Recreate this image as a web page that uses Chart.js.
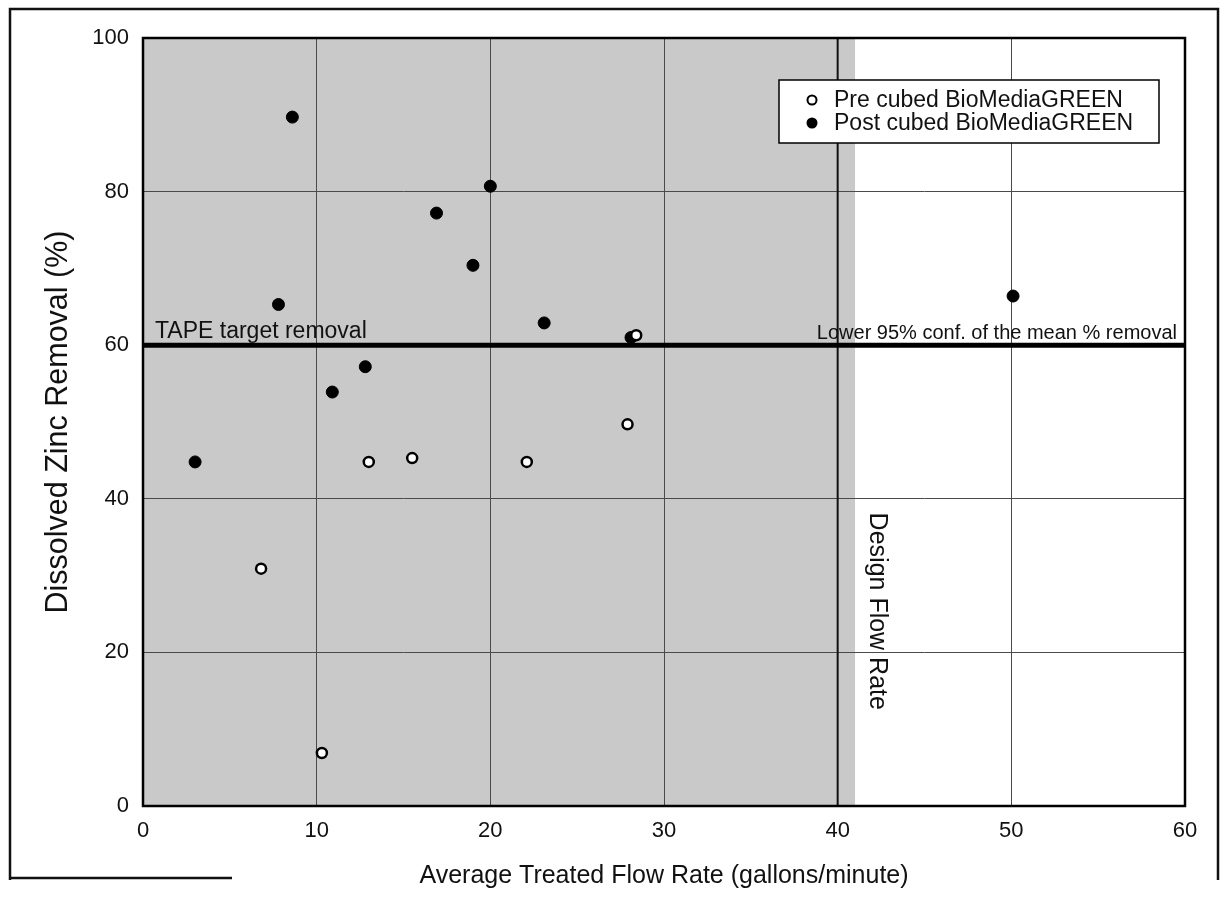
<!DOCTYPE html>
<html>
<head>
<meta charset="utf-8">
<script src="https://cdn.jsdelivr.net/npm/chart.js@4.4.1/dist/chart.umd.min.js"></script>
<style>
  html, body { margin: 0; padding: 0; background: #fff; }
  #wrap { width: 1226px; height: 903px; }
  canvas { background: #fff; }
</style>
</head>
<body>
<div id="wrap"><canvas id="zincChart" width="1226" height="903"></canvas></div>
<script>
// values
const preFlow = [28.4, 27.9, 13.0, 15.5, 22.1, 6.8, 10.3];
const preRemoval = [61.3, 49.7, 44.8, 45.3, 44.8, 30.9, 6.9];
const postFlow = [8.6, 7.8, 16.9, 20.0, 19.0, 23.1, 28.1, 12.8, 10.9, 3.0, 50.1];
const postRemoval = [89.7, 65.3, 77.2, 80.7, 70.4, 62.9, 61.0, 57.2, 53.9, 44.8, 66.4];
const seriesNames = ["Pre cubed BioMediaGREEN", "Post cubed BioMediaGREEN"];
const targetRemoval = 60;
const designFlowRate = 40;
const shadedFlowMax = 41;
const xRange = [0, 60];
const yRange = [0, 100];
const xStep = 10;
const yStep = 20;

const FONT = "'Liberation Sans', Arial, sans-serif";

function toPoints(xs, ys) {
  return xs.map((x, i) => ({ x: x, y: ys[i] }));
}

const decorations = {
  id: "decorations",
  beforeDraw(chart) {
    const { ctx, chartArea, scales } = chart;
    const left = scales.x.getPixelForValue(xRange[0]);
    const right = scales.x.getPixelForValue(shadedFlowMax);
    ctx.save();
    ctx.fillStyle = "#c9c9c9";
    ctx.fillRect(left, chartArea.top, right - left, chartArea.bottom - chartArea.top);
    ctx.restore();
  },
  afterDatasetsDraw(chart) {
    const { ctx, scales } = chart;
    const yLine = scales.y.getPixelForValue(targetRemoval);
    ctx.save();
    ctx.fillStyle = "#111";
    ctx.textBaseline = "alphabetic";

    ctx.font = "23px " + FONT;
    ctx.textAlign = "left";
    ctx.fillText("TAPE target removal", scales.x.getPixelForValue(xRange[0]) + 12, yLine - 7);

    ctx.font = "20px " + FONT;
    ctx.textAlign = "right";
    ctx.fillText("Lower 95% conf. of the mean % removal", scales.x.getPixelForValue(xRange[1]) - 8, yLine - 6);

    // design flow label, reads top to bottom
    ctx.font = "25px " + FONT;
    ctx.textAlign = "left";
    ctx.textBaseline = "middle";
    ctx.translate(scales.x.getPixelForValue(designFlowRate) + 39, scales.y.getPixelForValue(38.2));
    ctx.rotate(Math.PI / 2);
    ctx.fillText("Design Flow Rate", 0, 0);
    ctx.restore();
  },
  afterDraw(chart) {
    const { ctx, chartArea } = chart;
    ctx.save();

    // plot frame
    ctx.strokeStyle = "#000";
    ctx.lineWidth = 2.5;
    ctx.strokeRect(chartArea.left, chartArea.top, chartArea.right - chartArea.left, chartArea.bottom - chartArea.top);

    // legend
    const bx = 779, by = 80, bw = 380, bh = 63;
    ctx.fillStyle = "#fff";
    ctx.fillRect(bx, by, bw, bh);
    ctx.lineWidth = 1.5;
    ctx.strokeRect(bx, by, bw, bh);
    ctx.font = "23px " + FONT;
    ctx.textAlign = "left";
    ctx.textBaseline = "middle";
    const rows = [by + 20, by + 43];
    chart.data.datasets.slice(0, 2).forEach((ds, i) => {
      ctx.beginPath();
      ctx.arc(bx + 33, rows[i], 4.5, 0, Math.PI * 2);
      ctx.fillStyle = ds.backgroundColor;
      ctx.fill();
      ctx.lineWidth = 2;
      ctx.strokeStyle = "#000";
      ctx.stroke();
      ctx.fillStyle = "#111";
      ctx.fillText(ds.label, bx + 55, rows[i] + 1);
    });

    // outer page frame of the scan
    ctx.strokeStyle = "#111";
    ctx.lineWidth = 2.5;
    ctx.beginPath();
    ctx.moveTo(10, 880);
    ctx.lineTo(10, 9);
    ctx.lineTo(1218, 9);
    ctx.lineTo(1218, 880);
    ctx.moveTo(10, 878);
    ctx.lineTo(232, 878);
    ctx.stroke();
    ctx.restore();
  }
};

new Chart(document.getElementById("zincChart"), {
  type: "scatter",
  data: {
    datasets: [
      {
        label: seriesNames[0],
        data: toPoints(preFlow, preRemoval),
        backgroundColor: "#fff",
        borderColor: "#000",
        borderWidth: 2.5,
        pointRadius: 5,
        order: 0
      },
      {
        label: seriesNames[1],
        data: toPoints(postFlow, postRemoval),
        backgroundColor: "#000",
        borderColor: "#000",
        borderWidth: 1,
        pointRadius: 6,
        order: 1
      },
      {
        type: "line",
        label: "target",
        data: [{ x: xRange[0], y: targetRemoval }, { x: xRange[1], y: targetRemoval }],
        borderColor: "#000",
        borderWidth: 5,
        pointRadius: 0,
        order: 2
      },
      {
        type: "line",
        label: "design",
        data: [{ x: designFlowRate, y: yRange[0] }, { x: designFlowRate, y: yRange[1] }],
        borderColor: "#111",
        borderWidth: 2,
        pointRadius: 0,
        order: 3
      }
    ]
  },
  options: {
    responsive: false,
    animation: false,
    layout: { padding: { left: 0, top: 38, right: 41, bottom: 0 } },
    plugins: {
      legend: { display: false },
      tooltip: { enabled: false }
    },
    scales: {
      x: {
        type: "linear",
        min: xRange[0],
        max: xRange[1],
        ticks: { stepSize: xStep, color: "#111", font: { family: FONT, size: 22 }, padding: 12 },
        grid: { color: "#4a4a4a", lineWidth: 1, drawTicks: false },
        border: { display: false },
        title: {
          display: true,
          text: "Average Treated Flow Rate (gallons/minute)",
          color: "#111",
          font: { family: FONT, size: 25 },
          padding: { top: 4, bottom: 12 }
        },
        afterFit(scale) { scale.height = 97; }
      },
      y: {
        type: "linear",
        min: yRange[0],
        max: yRange[1],
        ticks: { stepSize: yStep, color: "#111", font: { family: FONT, size: 22 }, padding: 14 },
        grid: { color: "#4a4a4a", lineWidth: 1, drawTicks: false },
        border: { display: false },
        title: {
          display: true,
          text: "Dissolved Zinc Removal (%)",
          color: "#111",
          font: { family: FONT, size: 30.5 },
          padding: { top: 40, bottom: 4 }
        },
        afterFit(scale) { scale.width = 143; }
      }
    }
  },
  plugins: [decorations]
});
</script>
</body>
</html>
